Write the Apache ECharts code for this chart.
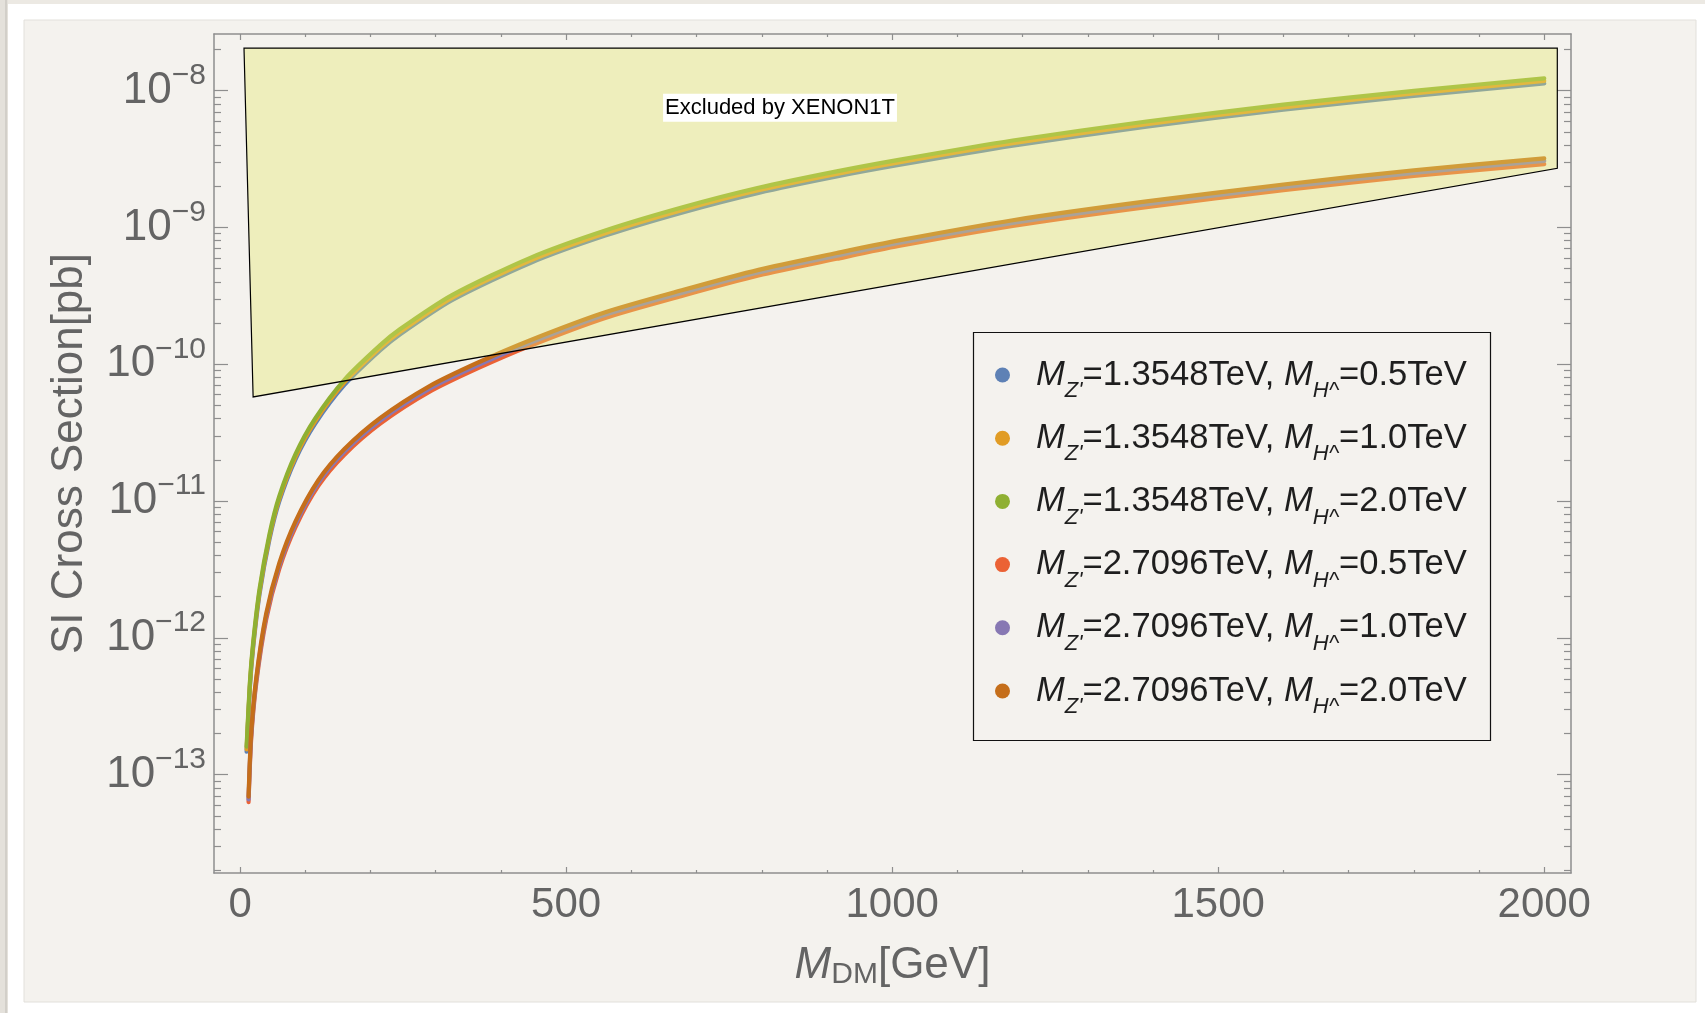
<!DOCTYPE html>
<html>
<head>
<meta charset="utf-8">
<script src="https://cdn.jsdelivr.net/npm/echarts@6/dist/echarts.min.js"></script>
<style>
html,body{margin:0;padding:0;background:#fff;}
#chart{width:1705px;height:1013px;}
</style>
</head>
<body>
<div id="chart"></div>
<script>
// ---------------- data ----------------
const seriesNames = [
  "M_Z'=1.3548TeV, M_H^=0.5TeV",
  "M_Z'=1.3548TeV, M_H^=1.0TeV",
  "M_Z'=1.3548TeV, M_H^=2.0TeV",
  "M_Z'=2.7096TeV, M_H^=0.5TeV",
  "M_Z'=2.7096TeV, M_H^=1.0TeV",
  "M_Z'=2.7096TeV, M_H^=2.0TeV"
];
const zMass = ['1.3548', '1.3548', '1.3548', '2.7096', '2.7096', '2.7096'];
const hMass = ['0.5', '1.0', '2.0', '0.5', '1.0', '2.0'];
const seriesColors = ['#5E81B5', '#E19C24', '#8FB032', '#EB6235', '#8778B3', '#C56E1A'];

// M_Z' = 1.3548 TeV group
const mDM1 = [10, 15, 20, 30, 45, 60, 85, 115, 160, 215, 245, 325, 445, 560, 680, 795, 915, 1010, 1185, 1390, 1600, 1800, 2000];
const sigmaZ1H05 = [1.47e-13, 4.31e-13, 8.44e-13, 2.11e-12, 5.23e-12, 9.91e-12, 2.02e-11, 3.67e-11, 7.06e-11, 1.266e-10, 1.65e-10, 2.94e-10, 5.5e-10, 8.72e-10, 1.294e-9, 1.79e-9, 2.36e-9, 2.86e-9, 3.96e-9, 5.46e-9, 7.25e-9, 9.16e-9, 1.128e-8];
const sigmaZ1H10 = [1.53e-13, 4.5e-13, 8.8e-13, 2.2e-12, 5.45e-12, 1.033e-11, 2.105e-11, 3.83e-11, 7.37e-11, 1.32e-10, 1.72e-10, 3.06e-10, 5.74e-10, 9.09e-10, 1.35e-9, 1.87e-9, 2.46e-9, 2.99e-9, 4.13e-9, 5.69e-9, 7.56e-9, 9.55e-9, 1.177e-8];
const sigmaZ1H20 = [1.6e-13, 4.7e-13, 9.2e-13, 2.3e-12, 5.7e-12, 1.08e-11, 2.2e-11, 4.0e-11, 7.7e-11, 1.38e-10, 1.8e-10, 3.2e-10, 6.0e-10, 9.5e-10, 1.41e-9, 1.95e-9, 2.57e-9, 3.12e-9, 4.32e-9, 5.95e-9, 7.9e-9, 9.98e-9, 1.23e-8];

// M_Z' = 2.7096 TeV group
const mDM2 = [13, 17, 25, 40, 60, 85, 120, 160, 215, 290, 365, 445, 560, 680, 795, 915, 1010, 1185, 1390, 1600, 1800, 2000];
const sigmaZ2H05 = [6.3e-14, 1.82e-13, 4.73e-13, 1.36e-12, 3.18e-12, 6.45e-12, 1.29e-11, 2.18e-11, 3.68e-11, 6.27e-11, 9.36e-11, 1.364e-10, 2.18e-10, 3.18e-10, 4.45e-10, 5.9e-10, 7.32e-10, 1.027e-9, 1.41e-9, 1.87e-9, 2.38e-9, 2.9e-9];
const sigmaZ2H10 = [6.6e-14, 1.91e-13, 4.98e-13, 1.435e-12, 3.35e-12, 6.79e-12, 1.36e-11, 2.3e-11, 3.88e-11, 6.6e-11, 9.86e-11, 1.435e-10, 2.3e-10, 3.35e-10, 4.69e-10, 6.22e-10, 7.7e-10, 1.081e-9, 1.483e-9, 1.97e-9, 2.51e-9, 3.06e-9];
const sigmaZ2H20 = [6.9e-14, 2.0e-13, 5.2e-13, 1.5e-12, 3.5e-12, 7.1e-12, 1.42e-11, 2.4e-11, 4.05e-11, 6.9e-11, 1.03e-10, 1.5e-10, 2.4e-10, 3.5e-10, 4.9e-10, 6.5e-10, 8.05e-10, 1.13e-9, 1.55e-9, 2.06e-9, 2.62e-9, 3.2e-9];

// XENON1T excluded region (polygon vertices)
const xenonX = [6, 2020, 2020, 20];
const xenonY = [2.05e-8, 2.05e-8, 2.71e-9, 5.77e-11];
const xenonLabel = 'Excluded by XENON1T';
const xenonLabelPos = [828, 7.5e-9];

// axes
const xTickLabels = [0, 500, 1000, 1500, 2000];
const xMinorTicks = [100, 200, 300, 400, 600, 700, 800, 900, 1100, 1200, 1300, 1400, 1600, 1700, 1800, 1900];
const yTickExponents = [-13, -12, -11, -10, -9, -8];
const X_MIN = -40, X_MAX = 2041;
const Y_MIN = 1.91e-14, Y_MAX = 2.596e-8;

// ---------------- chart ----------------
const FONT = '"Liberation Sans", Arial, Helvetica, sans-serif';
const AX = '#8e8e8e';
const LBL = '#646464';
const LEG = '#1e1e1e';

const yMajor = yTickExponents.map(e => Math.pow(10, e));
const yMinor = [];
for (let e = -14; e <= -8; e++) {
  for (let k = 2; k <= 9; k++) {
    const v = k * Math.pow(10, e);
    if (v > Y_MIN && v < Y_MAX) yMinor.push(v);
  }
}

function xAxisDef(pos, ticks, len, showLine, extra) {
  return Object.assign({
    type: 'value', position: pos, min: X_MIN, max: X_MAX,
    axisLine: { show: showLine, onZero: false, lineStyle: { color: AX, width: 1.5 } },
    axisTick: { show: true, inside: true, length: len, customValues: ticks, lineStyle: { color: AX, width: 1.2 } },
    axisLabel: { show: false },
    splitLine: { show: false }
  }, extra || {});
}
function yAxisDef(pos, ticks, len, showLine, extra) {
  return Object.assign({
    type: 'log', logBase: 10, position: pos, min: Y_MIN, max: Y_MAX,
    axisLine: { show: showLine, onZero: false, lineStyle: { color: AX, width: 1.5 } },
    axisTick: { show: true, inside: true, length: len, customValues: ticks, lineStyle: { color: AX, width: 1.2 } },
    axisLabel: { show: false },
    splitLine: { show: false }
  }, extra || {});
}

const groups = [
  [mDM1, sigmaZ1H05], [mDM1, sigmaZ1H10], [mDM1, sigmaZ1H20],
  [mDM2, sigmaZ2H05], [mDM2, sigmaZ2H10], [mDM2, sigmaZ2H20]
];

const lineSeries = groups.map((g, i) => ({
  name: seriesNames[i],
  type: 'line',
  xAxisIndex: 0, yAxisIndex: 0,
  data: g[0].map((x, j) => [x, g[1][j]]),
  showSymbol: false,
  smooth: 0.25,
  color: seriesColors[i],
  lineStyle: { width: 4.2, color: seriesColors[i], cap: 'round', join: 'round' },
  z: 2,
  silent: true
}));

const xenonSeries = {
  type: 'custom',
  xAxisIndex: 0, yAxisIndex: 0,
  z: 5,
  silent: true,
  data: xenonX.map((x, i) => [x, xenonY[i]]),
  renderItem: function (params, api) {
    if (params.dataIndex !== 0) return null;
    const pts = xenonX.map((x, i) => api.coord([x, xenonY[i]]));
    const lp = api.coord(xenonLabelPos);
    return {
      type: 'group',
      children: [
        { type: 'polygon', shape: { points: pts },
          style: { fill: 'rgba(228,232,108,0.38)', stroke: '#000', lineWidth: 1.2 } },
        { type: 'text', x: lp[0], y: lp[1],
          style: { text: xenonLabel, font: '22px ' + FONT, fill: '#000', align: 'center', verticalAlign: 'middle',
                   backgroundColor: '#fff', padding: [3, 2, 3, 2] } }
      ]
    };
  }
};

const chart = echarts.init(document.getElementById('chart'), null, { renderer: 'canvas' });
chart.setOption({
  animation: false,
  backgroundColor: '#ffffff',
  graphic: { elements: [
    { type: 'rect', z: 0, shape: { x: 0, y: 0, width: 1705, height: 4 }, style: { fill: '#ece9e3' } },
    { type: 'rect', z: 0, shape: { x: 0, y: 0, width: 8, height: 1013 }, style: { fill: '#e4e1db' } },
    { type: 'rect', z: 0, shape: { x: 5, y: 0, width: 2, height: 1013 }, style: { fill: '#d2cfc9' } },
    { type: 'rect', z: 0, shape: { x: 24, y: 20, width: 1672, height: 982 }, style: { fill: '#f4f2ee', stroke: '#e2e0db', lineWidth: 1 } },
    { type: 'rect', z: 1, shape: { x: 973.5, y: 332.5, width: 517, height: 408 }, style: { fill: 'none', stroke: '#111', lineWidth: 1.2 } }
  ]},
  grid: { left: 214, top: 34, width: 1357, height: 839, show: false, containLabel: false },
  xAxis: [
    xAxisDef('bottom', xTickLabels, 6, true, {
      axisLabel: { show: true, customValues: xTickLabels, fontSize: 42, color: LBL, fontFamily: FONT, margin: 11,
        formatter: function (v) { return String(v); } },
      name: '{i|M}{s|DM}{n|[GeV]}',
      nameLocation: 'middle', nameGap: 69,
      nameTextStyle: { color: LBL, fontFamily: FONT, fontSize: 44,
        rich: {
          i: { fontStyle: 'italic', fontSize: 44, color: LBL, fontFamily: FONT },
          s: { fontSize: 30, color: LBL, fontFamily: FONT, padding: [18, 0, 0, 0] },
          n: { fontSize: 44, color: LBL, fontFamily: FONT }
        } }
    }),
    xAxisDef('bottom', xMinorTicks, 3, false),
    xAxisDef('top', xTickLabels, 6, true),
    xAxisDef('top', xMinorTicks, 3, false)
  ],
  yAxis: [
    yAxisDef('left', yMajor, 14, true, {
      axisLabel: { show: true, customValues: yMajor, margin: 8, color: LBL, fontFamily: FONT,
        formatter: function (v) { return '{b|10}{e|\u2212' + (-Math.round(Math.log10(v))) + '}'; },
        rich: {
          b: { fontSize: 44, color: LBL, fontFamily: FONT, padding: [16, 0, 16, 0] },
          e: { fontSize: 30, color: LBL, fontFamily: FONT, padding: [0, 0, 30, 0] }
        } },
      name: 'SI Cross Section[pb]',
      nameLocation: 'middle', nameGap: 122,
      nameTextStyle: { color: LBL, fontFamily: FONT, fontSize: 44 }
    }),
    yAxisDef('left', yMinor, 7, false),
    yAxisDef('right', yMajor, 14, true),
    yAxisDef('right', yMinor, 7, false)
  ],
  legend: {
    data: seriesNames,
    orient: 'vertical',
    left: 995, top: 348,
    padding: 0,
    itemGap: 9.2,
    icon: 'circle',
    itemWidth: 15, itemHeight: 15,
    selectedMode: false,
    formatter: function (name) {
      const i = seriesNames.indexOf(name);
      return "{p| }{m|M}{s|Z'}{n|=" + zMass[i] + "TeV, }{m|M}{s|H^}{n|=" + hMass[i] + "TeV}";
    },
    textStyle: {
      color: LEG, fontFamily: FONT, fontSize: 34.6,
      rich: {
        p: { width: 21, fontSize: 34.6, lineHeight: 40, color: LEG, fontFamily: FONT },
        m: { fontStyle: 'italic', fontSize: 34.6, lineHeight: 40, color: LEG, fontFamily: FONT },
        s: { fontStyle: 'italic', fontSize: 22, lineHeight: 22, color: LEG, fontFamily: FONT, padding: [32, 0, 0, 0] },
        n: { fontSize: 34.6, lineHeight: 40, color: LEG, fontFamily: FONT }
      }
    }
  },
  series: lineSeries.concat([xenonSeries])
});
</script>
</body>
</html>
